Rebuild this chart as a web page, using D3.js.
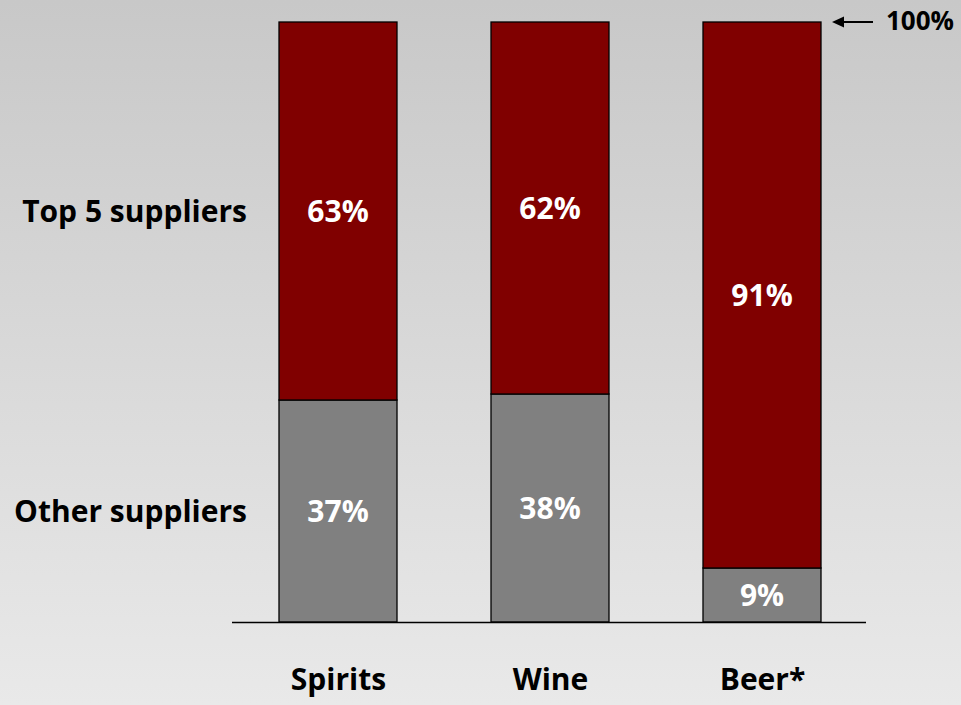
<!DOCTYPE html>
<html>
<head>
<meta charset="utf-8">
<script src="https://cdn.jsdelivr.net/npm/d3@7"></script>
<style>
  html, body { margin: 0; padding: 0; }
  svg { display: block; }
  text { font-family: "Open Sans", "DejaVu Sans", sans-serif; font-weight: 700; }
</style>
</head>
<body>
<script>
// Market share by beverage category
const categories = ["Spirits", "Wine", "Beer*"];
const topFive = [63, 62, 91];
const others = [37, 38, 9];
const seriesNames = ["Other suppliers", "Top 5 suppliers"];
const totalLabel = "100%";

const W = 961, H = 705;
const svg = d3.select("body").append("svg").attr("width", W).attr("height", H);

// soft vertical background gradient
const defs = svg.append("defs");
const grad = defs.append("linearGradient").attr("id", "bg").attr("x1", 0).attr("y1", 0).attr("x2", 0).attr("y2", 1);
grad.append("stop").attr("offset", "0%").attr("stop-color", "#c8c8c8");
grad.append("stop").attr("offset", "100%").attr("stop-color", "#e9e9e9");
svg.append("rect").attr("width", W).attr("height", H).attr("fill", "url(#bg)");

const x = d3.scalePoint().domain(categories).range([338, 762]);
const y = d3.scaleLinear().domain([0, 100]).range([622, 22]);

const rows = categories.map((c, i) => ({ cat: c, other: others[i], top: topFive[i] }));
const stack = d3.stack().keys(["other", "top"])(rows);
const colors = { other: "#808080", top: "#800000" };

const bw = 118;
const bx = c => x(c) - bw / 2;
const FS = 30;

stack.forEach(layer => {
  const g = svg.append("g");
  g.selectAll("rect").data(layer).enter().append("rect")
    .attr("x", d => bx(d.data.cat))
    .attr("width", bw)
    .attr("y", d => y(d[1]))
    .attr("height", d => y(d[0]) - y(d[1]))
    .attr("fill", colors[layer.key])
    .attr("stroke", "#000")
    .attr("stroke-width", 1.3);
  g.selectAll("text").data(layer).enter().append("text")
    .attr("x", d => x(d.data.cat))
    .attr("y", d => (y(d[0]) + y(d[1])) / 2 + 3)
    .attr("text-anchor", "middle")
    .attr("dominant-baseline", "middle")
    .attr("fill", "#fff")
    .attr("font-size", FS)
    .text(d => d.data[layer.key] + "%");
});

// baseline axis
const xAxis = d3.axisBottom(x).tickSize(0).tickPadding(47);
const ax = svg.append("g").attr("transform", `translate(0,${y(0)})`).call(xAxis);
ax.select(".domain").attr("d", `M232,0.5H866`).attr("stroke", "#000").attr("stroke-width", 1.3);
ax.selectAll(".tick text")
  .attr("font-size", FS)
  .attr("fill", "#000")
  .attr("font-family", "'Open Sans', sans-serif")
  .attr("font-weight", 700);

// series labels at left, level with the first bar's segments
const first = i => (y(stack[i][0][0]) + y(stack[i][0][1])) / 2 + 3;
svg.append("text").attr("x", 247).attr("y", first(1)).attr("text-anchor", "end")
  .attr("dominant-baseline", "middle").attr("font-size", FS).attr("fill", "#000").text(seriesNames[1]);
svg.append("text").attr("x", 247).attr("y", first(0)).attr("text-anchor", "end")
  .attr("dominant-baseline", "middle").attr("font-size", FS).attr("fill", "#000").text(seriesNames[0]);

// 100% marker with arrow
const ty = y(100);
svg.append("path").attr("d", `M832,${ty}L844,${ty - 5.5}L844,${ty + 5.5}Z`).attr("fill", "#000");
svg.append("line").attr("x1", 842).attr("x2", 873).attr("y1", ty).attr("y2", ty)
  .attr("stroke", "#000").attr("stroke-width", 2);
svg.append("text").attr("x", 886).attr("y", ty + 1).attr("dominant-baseline", "middle")
  .attr("font-size", 26).attr("fill", "#000").text(totalLabel);
</script>
</body>
</html>
